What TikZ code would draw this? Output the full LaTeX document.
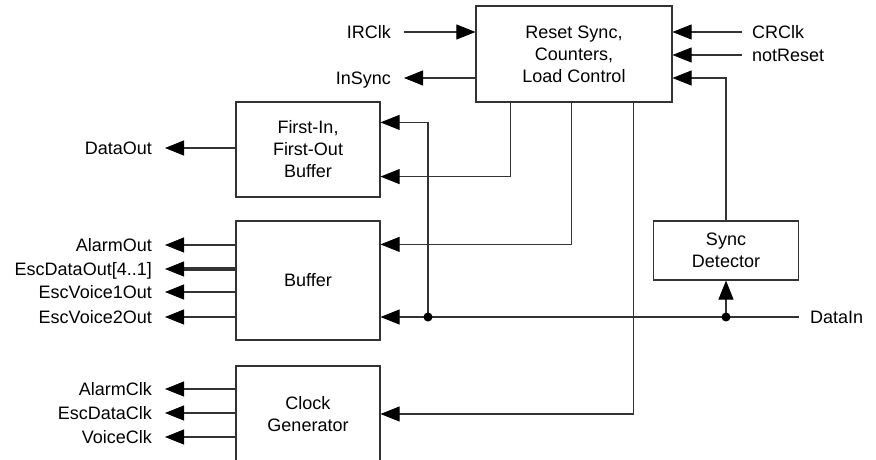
\documentclass[tikz,border=0pt]{standalone}
\usepackage{fontspec}
\setmainfont{Liberation Sans}
\usetikzlibrary{arrows.meta}

\begin{document}
\begin{tikzpicture}[x=1pt, y=-1pt, font=\fontsize{18}{22}\selectfont,
  >={Triangle[length=19pt, width=15pt, line width=0.8pt, color=black]},
  wire/.style={draw=black!80, line width=1.1pt},
  block/.style={draw=black!80, line width=1.2pt, align=center, inner sep=0pt},
  sigl/.style={anchor=east, inner sep=0pt, text height=12.9pt, text depth=0pt},
  sigr/.style={anchor=west, inner sep=0pt, text height=12.9pt, text depth=0pt}]

\useasboundingbox (0,0) rectangle (876,460);

% blocks
\node[block, minimum width=196pt, minimum height=96pt] (reset) at (574,54) {Reset Sync,\\Counters,\\Load Control};
\node[block, minimum width=144pt, minimum height=95pt] (fifo) at (308,149.5) {First-In,\\First-Out\\Buffer};
\node[block, minimum width=144pt, minimum height=119pt] (buffer) at (308,280.5) {Buffer};
\node[block, minimum width=144pt, minimum height=96pt] (clock) at (308,414) {Clock\\Generator};
\node[block, minimum width=145pt, minimum height=59pt] (sync) at (726,250.5) {Sync\\Detector};

% signal names
\node[sigl] (irclk) at (391,32) {IRClk};
\node[sigl] (insync) at (391,78) {InSync};
\node[sigr] (crclk) at (752,32) {CRClk};
\node[sigr] (notreset) at (752,55) {notReset};
\node[sigl] (dataout) at (152,148) {DataOut};
\node[sigl] (alarmout) at (152,245) {AlarmOut};
\node[sigl] (escdataout) at (152,269) {EscDataOut[4..1]};
\node[sigl] (escvoiceA) at (152,292) {EscVoice1Out};
\node[sigl] (escvoiceB) at (152,317) {EscVoice2Out};
\node[sigl] (alarmclk) at (152,389) {AlarmClk};
\node[sigl] (escdataclk) at (152,413) {EscDataClk};
\node[sigl] (voiceclk) at (152,437) {VoiceClk};
\node[sigr] (datain) at (810,317) {DataIn};

\coordinate (tapfifo) at (428,317);
\coordinate (tapsync) at (726,317);

% control side
\draw[wire, ->, shorten <=13pt] (irclk.east) -- (reset.west |- irclk.east);
\draw[wire, ->, shorten >=13pt] (reset.west |- insync.east) -- (insync.east);
\draw[wire, ->, shorten <=10pt] (crclk.west) -- (reset.east |- crclk.west);
\draw[wire, ->, shorten <=10pt] (notreset.west) -- (reset.east |- notreset.west);
\draw[wire, ->] (sync.north) |- ([yshift=-24pt]reset.east);
\draw[wire, ->] ([xshift=35pt]reset.south west) |- ([yshift=21pt]fifo.south east);
\draw[wire, ->] ([xshift=96pt]reset.south west) |- ([yshift=-24pt]buffer.north east);
\draw[wire, ->] ([xshift=158pt]reset.south west) |- (clock.east);

% data in
\draw[wire, ->, shorten <=11pt] (datain.west) -- (buffer.east |- datain.west);
\draw[wire, ->] (tapfifo) |- ([yshift=-21pt]fifo.north east);
\draw[wire, ->] (tapsync) -- (sync.south);
\fill (tapfifo) circle (4.5pt);
\fill (tapsync) circle (4.5pt);

% outputs
\draw[wire, ->, shorten >=13pt] (fifo.west |- dataout.east) -- (dataout.east);
\foreach \s in {alarmout, escvoiceA, escvoiceB, alarmclk, escdataclk, voiceclk}
  \draw[wire, ->, shorten >=13pt] (buffer.west |- \s.east) -- (\s.east);
\draw[wire, ->, line width=4pt, shorten >=13pt] (buffer.west |- escdataout.east) -- (escdataout.east);

\end{tikzpicture}
\end{document}
